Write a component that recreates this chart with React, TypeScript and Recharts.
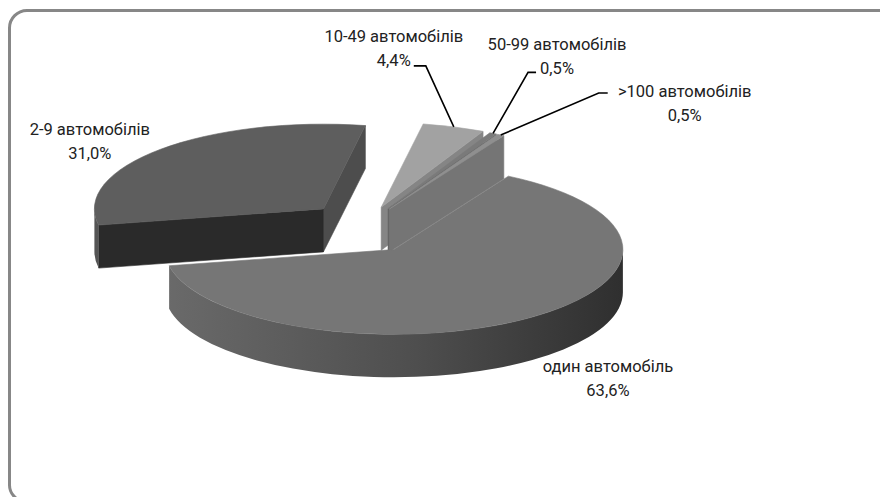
import React from 'react';
import { PieChart, Pie } from 'recharts';

// ---- data ----
const categories = ['один автомобіль', '2-9 автомобілів', '10-49 автомобілів', '50-99 автомобілів', '>100 автомобілів'];
const shares = [63.6, 31.0, 4.4, 0.5, 0.5];
const percentLabels = ['63,6%', '31,0%', '4,4%', '0,5%', '0,5%'];

// ---- style ----
const TOP_COLORS = ['#767676', '#5e5e5e', '#a2a2a2', '#7a7a7a', '#8f8f8f'];
const EXPLODE = [48, 60, 48, 48, 48];
const TILT = 0.37; // ellipse ratio of the pie top
const EXPLODE_TILT = 0.5;
const DEPTH = 43;
const RADIUS = 229;
const CENTER_X = 366;
const CENTER_Y = 230;
const FONT = 'Roboto, "Noto Sans", sans-serif';
const FONT_SIZE = 16.5;
const LINE_GAP = 24;

// label placement relative to the slice rim point at its mid angle (style)
type Layout = { dx: number; dy: number; leader?: number[][] };
const LABEL_LAYOUT: Layout[] = [
  { dx: 81, dy: 60 },
  { dx: -71, dy: -8 },
  { dx: -60, dy: -78, leader: [[32, 17], [20, 17]] },
  { dx: 64, dy: -77, leader: [[-29, 16], [-21, 16]] },
  { dx: 184, dy: -31, leader: [[-86, -11], [-77, -11]] },
];

const data = categories.map((name, i) => ({ name, value: shares[i], pct: percentLabels[i] }));

const rad = (a: number) => (a * Math.PI) / 180;
const cosd = (a: number) => Math.cos(rad(a));
const sind = (a: number) => Math.sin(rad(a));

function shade(hex: string, f: number) {
  const v = parseInt(hex.slice(1, 3), 16);
  const c = Math.max(0, Math.min(255, Math.round(v * f)));
  const h = c.toString(16).padStart(2, '0');
  return `#${h}${h}${h}`;
}

function origin(cx: number, cy: number, mid: number, index: number) {
  const d = EXPLODE[index % EXPLODE.length];
  return [cx + d * cosd(mid), cy - d * sind(mid) * EXPLODE_TILT];
}

function pt(ox: number, oy: number, r: number, a: number, dz = 0) {
  return [ox + r * cosd(a), oy - r * sind(a) * TILT + dz];
}
const s = (p: number[]) => `${p[0].toFixed(2)},${p[1].toFixed(2)}`;

function isFront(startAngle: number, endAngle: number) {
  const a0 = Math.min(startAngle, endAngle);
  const a1 = Math.max(startAngle, endAngle);
  for (let n = -3; n <= 3; n++) {
    const t = 270 + 360 * n;
    if (t >= a0 && t <= a1) return true;
  }
  return false;
}

function Slice3D(props: any) {
  const { cx, cy, outerRadius, startAngle, endAngle, index } = props;
  const R = outerRadius;
  const ry = R * TILT;
  const a0 = Math.min(startAngle, endAngle);
  const a1 = Math.max(startAngle, endAngle);
  const [ox, oy] = origin(cx, cy, (a0 + a1) / 2, index);
  const top = TOP_COLORS[index % TOP_COLORS.length];
  const p0 = pt(ox, oy, R, a0);
  const p1 = pt(ox, oy, R, a1);
  const large = a1 - a0 > 180 ? 1 : 0;
  const topPath = `M${s([ox, oy])} L${s(p0)} A${R},${ry} 0 ${large} 0 ${s(p1)} Z`;

  const faces: { d: string; fill: string }[] = [];
  const faceFill = (normal: number) => {
    const n = ((normal % 360) + 360) % 360;
    return shade(top, n >= 180 && n < 300 ? 0.45 : 0.82);
  };
  const facePath = (a: number) => {
    const q = pt(ox, oy, R, a);
    const qb = pt(ox, oy, R, a, DEPTH);
    return `M${s([ox, oy])} L${s(q)} L${s(qb)} L${s([ox, oy + DEPTH])} Z`;
  };
  if (cosd(a0) > 0.001) faces.push({ d: facePath(a0), fill: faceFill(a0 - 90) });
  if (cosd(a1) < -0.001) faces.push({ d: facePath(a1), fill: faceFill(a1 + 90) });

  const walls: string[] = [];
  for (let n = -3; n <= 3; n++) {
    const lo = Math.max(a0, 180 + 360 * n);
    const hi = Math.min(a1, 360 + 360 * n);
    if (hi > lo) {
      const w0 = pt(ox, oy, R, lo);
      const w1 = pt(ox, oy, R, hi);
      const w1b = pt(ox, oy, R, hi, DEPTH);
      const w0b = pt(ox, oy, R, lo, DEPTH);
      walls.push(`M${s(w0)} A${R},${ry} 0 0 0 ${s(w1)} L${s(w1b)} A${R},${ry} 0 0 1 ${s(w0b)} Z`);
    }
  }
  const gid = `wallgrad-${index}`;
  return (
    <g>
      <defs>
        <linearGradient id={gid} gradientUnits="userSpaceOnUse" x1={ox - R} y1={0} x2={ox + R} y2={0}>
          <stop offset="0" stopColor={shade(top, 0.9)} />
          <stop offset="0.55" stopColor={shade(top, 0.66)} />
          <stop offset="1" stopColor={shade(top, 0.4)} />
        </linearGradient>
      </defs>
      {faces.map((f, i) => (
        <path key={`f${i}`} d={f.d} fill={f.fill} stroke={f.fill} strokeWidth={0.6} strokeLinejoin="round" />
      ))}
      {walls.map((d, i) => (
        <path key={`w${i}`} d={d} fill={`url(#${gid})`} />
      ))}
      <path d={topPath} fill={top} stroke={top} strokeWidth={0.6} strokeLinejoin="round" />
    </g>
  );
}

const backShape = (p: any) => (isFront(p.startAngle, p.endAngle) ? <g /> : <Slice3D {...p} />);
const frontShape = (p: any) => (isFront(p.startAngle, p.endAngle) ? <Slice3D {...p} /> : <g />);

function renderLabel(props: any) {
  const { cx, cy, outerRadius, midAngle, index } = props;
  const [ox, oy] = origin(cx, cy, midAngle, index);
  const rim = pt(ox, oy, outerRadius, midAngle);
  const lay = LABEL_LAYOUT[index];
  const lx = rim[0] + lay.dx;
  const ly = rim[1] + lay.dy;
  const pts = lay.leader ? [rim, ...lay.leader.map(([x, y]) => [lx + x, ly + y])] : null;
  return (
    <g key={`lab-${index}`}>
      {pts && <polyline points={pts.map(s).join(' ')} fill="none" stroke="#000" strokeWidth={1.6} />}
      <text x={lx} y={ly - LINE_GAP / 2} textAnchor="middle" dominantBaseline="central" fontFamily={FONT} fontSize={FONT_SIZE} fill="#222">
        {categories[index]}
      </text>
      <text x={lx} y={ly + LINE_GAP / 2} textAnchor="middle" dominantBaseline="central" fontFamily={FONT} fontSize={FONT_SIZE} fill="#222">
        {percentLabels[index]}
      </text>
    </g>
  );
}

export default function App() {
  return (
    <div style={{ position: 'absolute', left: 0, top: 0, width: 880, height: 497, overflow: 'hidden', background: '#fff' }}>
      <style>{'html,body{margin:0;overflow:hidden;}'}</style>
      <svg width={880} height={497} style={{ position: 'absolute', left: 0, top: 0 }}>
        <path
          d="M900,501.5 H26 A16.5,16.5 0 0 1 9.5,485 V28 A17.5,17.5 0 0 1 27,10.5 H900"
          fill="none"
          stroke="#878787"
          strokeWidth={3}
        />
      </svg>
      <div style={{ position: 'absolute', left: 0, top: 0 }}>
        <PieChart width={880} height={497} margin={{ top: 0, right: 0, bottom: 0, left: 0 }} accessibilityLayer={false}>
          <Pie
            data={data}
            dataKey="value"
            nameKey="name"
            cx={CENTER_X}
            cy={CENTER_Y}
            innerRadius={0}
            outerRadius={RADIUS}
            startAngle={60}
            endAngle={-300}
            stroke="none"
            shape={backShape}
            isAnimationActive={false}
          />
          <Pie
            data={data}
            dataKey="value"
            nameKey="name"
            cx={CENTER_X}
            cy={CENTER_Y}
            innerRadius={0}
            outerRadius={RADIUS}
            startAngle={60}
            endAngle={-300}
            stroke="none"
            shape={frontShape}
            label={renderLabel}
            labelLine={false}
            isAnimationActive={false}
          />
        </PieChart>
      </div>
    </div>
  );
}
